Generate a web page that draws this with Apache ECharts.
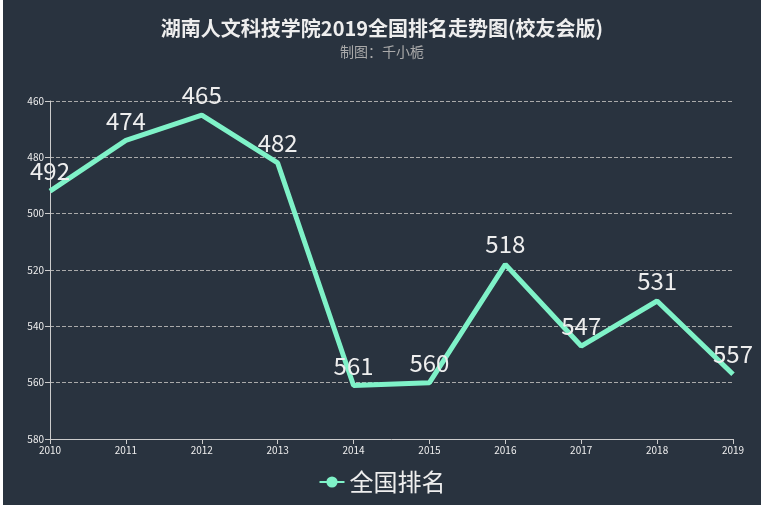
<!DOCTYPE html>
<html><head><meta charset="utf-8">
<script src="https://cdn.jsdelivr.net/npm/echarts@6/dist/echarts.min.js"></script>
<style>
html,body{margin:0;padding:0;background:#fff;width:764px;height:510px;overflow:hidden;}
#c{position:absolute;left:3px;top:0;width:758px;height:505px;}
</style></head><body>
<div id="c"></div>
<script>
const years = ['2010','2011','2012','2013','2014','2015','2016','2017','2018','2019'];
const ranks = [492, 474, 465, 482, 561, 560, 518, 547, 531, 557];
const titleText = '湖南人文科技学院2019全国排名走势图(校友会版)';
const subText = '制图：千小栀';
const seriesName = '全国排名';

const font = '"Noto Sans CJK SC", "Noto Sans", sans-serif';
const chart = echarts.init(document.getElementById('c'));
chart.setOption({
  backgroundColor: '#29333f',
  textStyle: {fontFamily: font},
  title: {
    text: titleText, subtext: subText, left: 'center', top: 13, itemGap: 7,
    textStyle: {color: '#eeeeee', fontSize: 20, fontWeight: 'bold', fontFamily: font},
    subtextStyle: {color: '#aaaaaa', fontSize: 14, fontFamily: font}
  },
  legend: {
    data: [seriesName], bottom: 6, left: 'center', itemWidth: 25, itemHeight: 14,
    textStyle: {color: '#eeeeee', fontSize: 24, fontFamily: font}
  },
  grid: {left: 47, right: 28, top: 101, bottom: 66},
  xAxis: {
    type: 'category', data: years, boundaryGap: false,
    axisLine: {lineStyle: {color: '#cccccc'}},
    axisTick: {lineStyle: {color: '#cccccc'}},
    axisLabel: {color: '#eeeeee', fontSize: 10, margin: 6}
  },
  yAxis: {
    type: 'value', inverse: true, min: 460, max: 580, interval: 20,
    axisLine: {show: true, lineStyle: {color: '#cccccc'}},
    axisTick: {show: true, lineStyle: {color: '#cccccc'}},
    axisLabel: {color: '#eeeeee', fontSize: 10, margin: 6},
    splitLine: {lineStyle: {color: '#aaaaaa', type: 'dashed'}}
  },
  series: [{
    name: seriesName, type: 'line', data: ranks,
    symbol: 'circle', symbolSize: 0,
    itemStyle: {color: '#7ff2c8'},
    lineStyle: {width: 5, color: '#7ff2c8'},
    label: {show: true, position: 'top', color: '#eeeeee', fontSize: 24, fontFamily: font, distance: 8}
  }]
});
</script></body></html>
